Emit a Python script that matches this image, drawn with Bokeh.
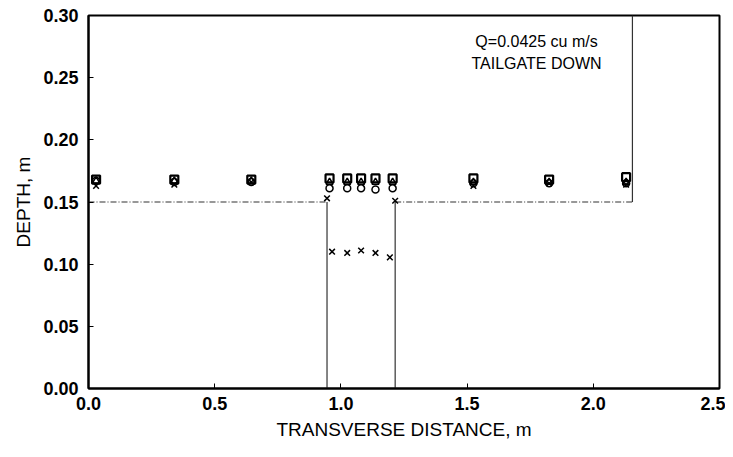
from bokeh.plotting import figure
from bokeh.embed import file_html
from bokeh.resources import INLINE
from bokeh.models import Range1d, FixedTicker, Label

# Measurement stations (transverse distance, m)
stations = [0.03, 0.34, 0.645, 0.955, 1.025, 1.08, 1.137, 1.205, 1.525, 1.825, 2.13]
depth_square = [0.168, 0.168, 0.168, 0.169, 0.169, 0.169, 0.169, 0.169, 0.169, 0.168, 0.170]
depth_triangle = [0.167, 0.167, 0.167, 0.166, 0.166, 0.166, 0.166, 0.166, 0.166, 0.166, 0.166]
depth_circle = [0.167, 0.166, 0.166, 0.161, 0.161, 0.161, 0.160, 0.161, 0.165, 0.165, 0.165]

cross_x = [0.03, 0.34, 0.645, 0.945, 0.965, 1.025, 1.08, 1.137, 1.194, 1.215, 1.525, 1.825, 2.13]
cross_y = [0.163, 0.164, 0.166, 0.153, 0.110, 0.109, 0.111, 0.109, 0.1055, 0.151, 0.163, 0.165, 0.164]

# Channel cross-section geometry
fp_left_x = [0.0, 0.945]
fp_left_y = [0.150, 0.150]
fp_right_x = [1.215, 2.155]
fp_right_y = [0.150, 0.150]
wall_x0 = [0.945, 1.215, 2.155]
wall_y0 = [0.0, 0.0, 0.150]
wall_y1 = [0.150, 0.150, 0.30]

x_ticks = [0.0, 0.5, 1.0, 1.5, 2.0, 2.5]
y_ticks = [0.00, 0.05, 0.10, 0.15, 0.20, 0.25, 0.30]

FONT = "Liberation Sans"

p = figure(width=725, height=449, output_backend="svg", toolbar_location=None,
           x_range=Range1d(0, 2.5), y_range=Range1d(0, 0.30))
p.min_border_left = 88
p.min_border_right = 6
p.min_border_top = 15
p.min_border_bottom = 61
p.background_fill_color = "white"
p.border_fill_color = "white"
p.outline_line_color = "black"
p.outline_line_width = 2
p.xgrid.visible = False
p.ygrid.visible = False

# bed profile
p.line(fp_left_x, fp_left_y, line_color="#333333", line_width=1.2, line_dash="6 2 1 2")
p.line(fp_right_x, fp_right_y, line_color="#333333", line_width=1.2, line_dash="6 2 1 2")
p.segment(x0=wall_x0, y0=wall_y0, x1=wall_x0, y1=wall_y1, line_color="#333333", line_width=1.2)

# data
p.scatter(stations, depth_circle, marker="circle", size=7, fill_color=None, line_color="black", line_width=1.5)
p.scatter(stations, depth_triangle, marker="triangle", size=7, fill_color=None, line_color="black", line_width=1.5)
p.scatter(stations, depth_square, marker="square", size=8, fill_color=None, line_color="black", line_width=2.2)
p.scatter(cross_x, cross_y, marker="x", size=8, line_color="black", line_width=1.5)

p.add_layout(Label(x=1.775, y=0.279, text="Q=0.0425 cu m/s", text_align="center",
                   text_baseline="middle", text_font=FONT, text_font_size="16px",
                   text_color="black"))
p.add_layout(Label(x=1.775, y=0.261, text="TAILGATE DOWN", text_align="center",
                   text_baseline="middle", text_font=FONT, text_font_size="16px",
                   text_color="black"))

for ax in (p.xaxis[0], p.yaxis[0]):
    ax.major_tick_in = 5
    ax.major_tick_out = 0
    ax.minor_tick_in = 0
    ax.minor_tick_out = 0
    ax.axis_line_color = "black"
    ax.axis_line_width = 2
    ax.major_tick_line_color = "black"
    ax.major_label_text_font = FONT
    ax.major_label_text_font_size = "18px"
    ax.major_label_text_font_style = "bold"
    ax.major_label_text_color = "black"
    ax.axis_label_text_font = FONT
    ax.axis_label_text_font_size = "19px"
    ax.axis_label_text_font_style = "normal"
    ax.axis_label_text_color = "black"

p.xaxis[0].ticker = FixedTicker(ticks=x_ticks)
p.yaxis[0].ticker = FixedTicker(ticks=y_ticks)
p.xaxis[0].major_label_overrides = {t: f"{t:.1f}" for t in x_ticks}
p.yaxis[0].major_label_overrides = {t: f"{t:.2f}" for t in y_ticks}
p.xaxis[0].axis_label = "TRANSVERSE DISTANCE, m"
p.yaxis[0].axis_label = "DEPTH, m"
p.xaxis[0].major_label_standoff = 8
p.yaxis[0].major_label_standoff = 10
p.xaxis[0].axis_label_standoff = 6
p.yaxis[0].axis_label_standoff = 6

open("out.html", "w").write(file_html(p, INLINE))
